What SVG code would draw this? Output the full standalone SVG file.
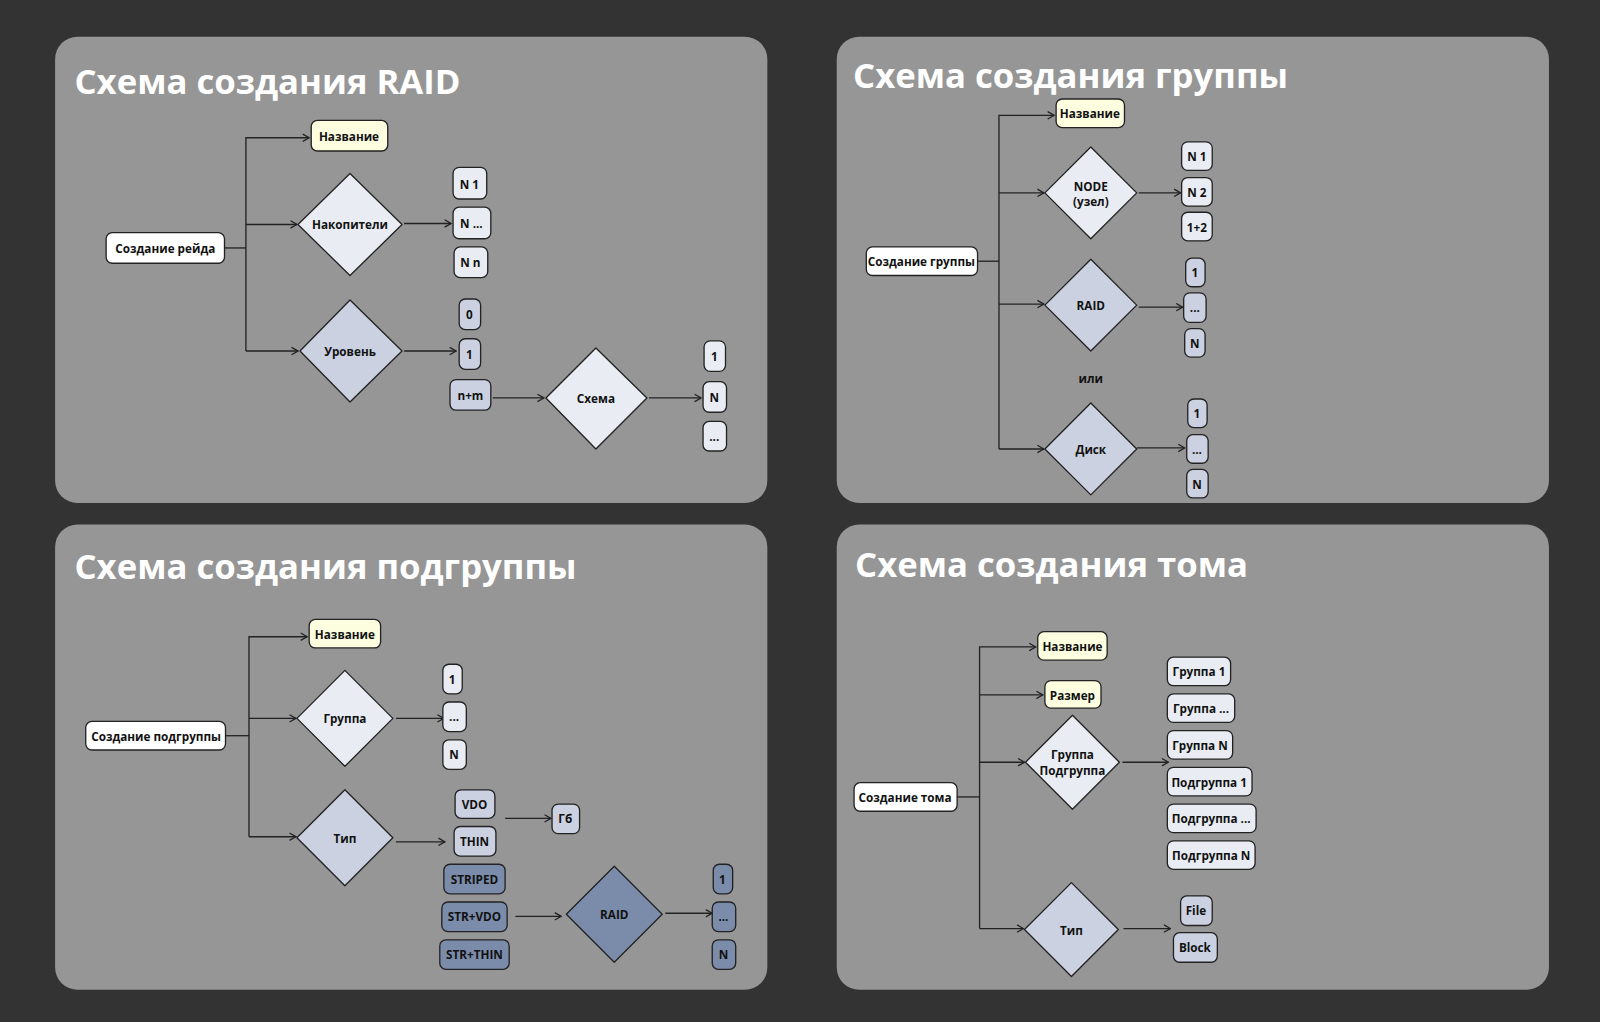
<svg xmlns="http://www.w3.org/2000/svg" width="1600" height="1022" viewBox="0 0 1600 1022">
<defs>
<style>
.panel{fill:#969696}
.t{font-family:"Open Sans","Liberation Sans",sans-serif;font-weight:700;fill:#fff;font-size:34px}
.l{font-family:"Open Sans","Liberation Sans",sans-serif;font-weight:700;font-size:11.5px;fill:#111;text-anchor:middle;dominant-baseline:central}
.n rect,.n polygon{stroke:#222;stroke-width:1.3;stroke-linejoin:round}
.w{fill:#ffffff}.y{fill:#fdfde0}.a{fill:#e9edf3}.m{fill:#cbd1e0}.d{fill:#7b8cab}
.c line,.c polyline{stroke:#222;stroke-width:1.3;fill:none}
.c .ar{marker-end:url(#ah)}
</style>
<marker id="ah" viewBox="0 0 10 10" refX="9" refY="5" markerWidth="9" markerHeight="9" markerUnits="userSpaceOnUse" orient="auto"><polyline points="2,1 9,5 2,9" fill="none" stroke="#222" stroke-width="1.4"/></marker>
</defs>
<rect width="1600" height="1022" fill="#333333"/>
<g transform="scale(1.0204)">
<rect class="panel" x="54" y="36" width="698" height="457" rx="22"/>
<rect class="panel" x="820" y="36" width="698" height="457" rx="22"/>
<rect class="panel" x="54" y="514" width="698" height="456" rx="22"/>
<rect class="panel" x="820" y="514" width="698" height="456" rx="22"/>
<text class="t" x="73" y="92">Схема создания RAID</text>
<text class="t" x="836" y="86" font-size="32">Схема создания группы</text>
<text class="t" x="73" y="567">Схема создания подгруппы</text>
<text class="t" x="838" y="565">Схема создания тома</text>

<g class="c" id="connectors">
<!-- TL -->
<line x1="220" y1="243" x2="241" y2="243"/>
<polyline points="241,344 241,135 303,135" class="ar"/>
<line x1="241" y1="220" x2="291" y2="220" class="ar"/>
<line x1="241" y1="344" x2="292" y2="344" class="ar"/>
<line x1="396" y1="219" x2="442" y2="219" class="ar"/>
<line x1="396" y1="344" x2="447" y2="344" class="ar"/>
<line x1="483" y1="390" x2="533" y2="390" class="ar"/>
<line x1="636" y1="390" x2="687" y2="390" class="ar"/>
<!-- TR -->
<line x1="958" y1="256" x2="979" y2="256"/>
<polyline points="979,440 979,113 1033,113" class="ar"/>
<line x1="979" y1="189" x2="1023" y2="189" class="ar"/>
<line x1="979" y1="298" x2="1023" y2="298" class="ar"/>
<line x1="979" y1="440" x2="1023" y2="440" class="ar"/>
<line x1="1116" y1="189" x2="1157" y2="189" class="ar"/>
<line x1="1116" y1="301" x2="1159" y2="301" class="ar"/>
<line x1="1114" y1="439" x2="1161" y2="439" class="ar"/>
<!-- BL -->
<line x1="221" y1="721" x2="244" y2="721"/>
<polyline points="244,820 244,624 301,624" class="ar"/>
<line x1="244" y1="704" x2="290" y2="704" class="ar"/>
<line x1="244" y1="820" x2="290" y2="820" class="ar"/>
<line x1="388" y1="704" x2="435" y2="704" class="ar"/>
<line x1="388" y1="825" x2="436" y2="825" class="ar"/>
<line x1="495" y1="802" x2="540" y2="802" class="ar"/>
<line x1="505" y1="898" x2="550" y2="898" class="ar"/>
<line x1="652" y1="895" x2="698" y2="895" class="ar"/>
<!-- BR -->
<line x1="938" y1="781" x2="960" y2="781"/>
<polyline points="960,910 960,634 1015,634" class="ar"/>
<line x1="960" y1="681" x2="1022" y2="681" class="ar"/>
<line x1="960" y1="747" x2="1004" y2="747" class="ar"/>
<line x1="960" y1="910" x2="1003" y2="910" class="ar"/>
<line x1="1100" y1="747" x2="1145" y2="747" class="ar"/>
<line x1="1101" y1="910" x2="1147" y2="910" class="ar"/>
</g>

<!-- TL nodes -->
<g class="n" id="raid-start"><rect class="w" x="104" y="228" width="116" height="30" rx="6"/><text class="l" x="162" y="243">Создание рейда</text></g>
<g class="n" id="raid-name"><rect class="y" x="305" y="118" width="75" height="30" rx="6"/><text class="l" x="342" y="133">Название</text></g>
<g class="n" id="raid-drives"><polygon class="a" points="343,170 394,220 343,270 292,220"/><text class="l" x="343" y="220">Накопители</text></g>
<g class="n" id="raid-level"><polygon class="m" points="343,294 394,344 343,394 294,344"/><text class="l" x="343" y="344">Уровень</text></g>
<g class="n" id="raid-n1"><rect class="a" x="444" y="164" width="33" height="31" rx="6"/><text class="l" x="460" y="180">N 1</text></g>
<g class="n" id="raid-ndots"><rect class="a" x="444" y="203" width="37" height="31" rx="6"/><text class="l" x="462" y="219">N ...</text></g>
<g class="n" id="raid-nn"><rect class="a" x="445" y="242" width="33" height="30" rx="6"/><text class="l" x="461" y="257">N n</text></g>
<g class="n" id="raid-l0"><rect class="m" x="450" y="293" width="21" height="30" rx="6"/><text class="l" x="460" y="308">0</text></g>
<g class="n" id="raid-l1"><rect class="m" x="450" y="332" width="21" height="30" rx="6"/><text class="l" x="460" y="347">1</text></g>
<g class="n" id="raid-lnm"><rect class="m" x="441" y="372" width="40" height="30" rx="6"/><text class="l" x="461" y="387">n+m</text></g>
<g class="n" id="raid-scheme"><polygon class="a" points="584,341 634,390 584,440 535,390"/><text class="l" x="584" y="390">Схема</text></g>
<g class="n" id="raid-s1"><rect class="a" x="690" y="334" width="21" height="30" rx="6"/><text class="l" x="700" y="349">1</text></g>
<g class="n" id="raid-sn"><rect class="a" x="689" y="374" width="23" height="30" rx="6"/><text class="l" x="700" y="389">N</text></g>
<g class="n" id="raid-sd"><rect class="a" x="689" y="413" width="23" height="29" rx="6"/><text class="l" x="700" y="427">...</text></g>

<!-- TR nodes -->
<g class="n" id="grp-start"><rect class="w" x="849" y="242" width="109" height="28" rx="6"/><text class="l" x="903" y="256" font-size="10.5">Создание группы</text></g>
<g class="n" id="grp-name"><rect class="y" x="1035" y="97" width="67" height="28" rx="6"/><text class="l" x="1068" y="111" font-size="10.5">Название</text></g>
<g class="n" id="grp-node"><polygon class="a" points="1069,144 1114,189 1069,234 1024,189"/><text class="l" x="1069" y="189" font-size="10.5"><tspan x="1069" dy="-7">NODE</tspan><tspan x="1069" dy="15">(узел)</tspan></text></g>
<g class="n" id="grp-raid"><polygon class="m" points="1069,254 1114,299 1069,344 1024,299"/><text class="l" x="1069" y="299" font-size="10.5">RAID</text></g>
<g class="n" id="grp-disk"><polygon class="m" points="1069,395 1114,440 1069,485 1024,440"/><text class="l" x="1069" y="440" font-size="10.5">Диск</text></g>
<g class="n" id="grp-n1"><rect class="a" x="1158" y="139" width="30" height="28" rx="6"/><text class="l" x="1173" y="153" font-size="10.5">N 1</text></g>
<g class="n" id="grp-n2"><rect class="a" x="1158" y="174" width="30" height="28" rx="6"/><text class="l" x="1173" y="188" font-size="10.5">N 2</text></g>
<g class="n" id="grp-n12"><rect class="a" x="1158" y="208" width="30" height="28" rx="6"/><text class="l" x="1173" y="222" font-size="10.5">1+2</text></g>
<g class="n" id="grp-r1"><rect class="m" x="1162" y="253" width="19" height="28" rx="6"/><text class="l" x="1171" y="267" font-size="10.5">1</text></g>
<g class="n" id="grp-rd"><rect class="m" x="1160" y="287" width="22" height="29" rx="6"/><text class="l" x="1171" y="301" font-size="10.5">...</text></g>
<g class="n" id="grp-rn"><rect class="m" x="1161" y="322" width="20" height="28" rx="6"/><text class="l" x="1171" y="336" font-size="10.5">N</text></g>
<text class="l" x="1069" y="370" font-size="10.5">или</text>
<g class="n" id="grp-d1"><rect class="m" x="1164" y="391" width="19" height="28" rx="6"/><text class="l" x="1173" y="405" font-size="10.5">1</text></g>
<g class="n" id="grp-dd"><rect class="m" x="1163" y="426" width="21" height="28" rx="6"/><text class="l" x="1173" y="440" font-size="10.5">...</text></g>
<g class="n" id="grp-dn"><rect class="m" x="1163" y="460" width="21" height="28" rx="6"/><text class="l" x="1173" y="474" font-size="10.5">N</text></g>

<!-- BL nodes -->
<g class="n" id="sub-start"><rect class="w" x="84" y="707" width="137" height="28" rx="6"/><text class="l" x="153" y="721" font-size="11">Создание подгруппы</text></g>
<g class="n" id="sub-name"><rect class="y" x="303" y="607" width="70" height="28" rx="6"/><text class="l" x="338" y="621" font-size="11">Название</text></g>
<g class="n" id="sub-group"><polygon class="a" points="338,657 385,704 338,751 291,704"/><text class="l" x="338" y="704" font-size="11">Группа</text></g>
<g class="n" id="sub-type"><polygon class="m" points="338,774 385,821 338,868 291,821"/><text class="l" x="338" y="821" font-size="11">Тип</text></g>
<g class="n" id="sub-g1"><rect class="a" x="434" y="651" width="19" height="29" rx="6"/><text class="l" x="443" y="665" font-size="11">1</text></g>
<g class="n" id="sub-gd"><rect class="a" x="434" y="688" width="23" height="29" rx="6"/><text class="l" x="445" y="702" font-size="11">...</text></g>
<g class="n" id="sub-gn"><rect class="a" x="434" y="725" width="23" height="29" rx="6"/><text class="l" x="445" y="739" font-size="11">N</text></g>
<g class="n" id="sub-vdo"><rect class="m" x="446" y="774" width="39" height="28" rx="6"/><text class="l" x="465" y="788" font-size="11">VDO</text></g>
<g class="n" id="sub-thin"><rect class="m" x="445" y="810" width="41" height="29" rx="6"/><text class="l" x="465" y="824" font-size="11">THIN</text></g>
<g class="n" id="sub-gb"><rect class="m" x="541" y="788" width="27" height="29" rx="6"/><text class="l" x="554" y="802" font-size="11">Гб</text></g>
<g class="n" id="sub-striped"><rect class="d" x="435" y="847" width="60" height="29" rx="6"/><text class="l" x="465" y="861" font-size="11">STRIPED</text></g>
<g class="n" id="sub-strvdo"><rect class="d" x="433" y="884" width="64" height="29" rx="6"/><text class="l" x="465" y="898" font-size="11">STR+VDO</text></g>
<g class="n" id="sub-strthin"><rect class="d" x="431" y="921" width="68" height="29" rx="6"/><text class="l" x="465" y="935" font-size="11">STR+THIN</text></g>
<g class="n" id="sub-raid"><polygon class="d" points="602,849 649,896 602,943 555,896"/><text class="l" x="602" y="896" font-size="11">RAID</text></g>
<g class="n" id="sub-r1"><rect class="d" x="699" y="847" width="19" height="29" rx="6"/><text class="l" x="708" y="861" font-size="11">1</text></g>
<g class="n" id="sub-rd"><rect class="d" x="698" y="884" width="23" height="29" rx="6"/><text class="l" x="709" y="898" font-size="11">...</text></g>
<g class="n" id="sub-rn"><rect class="d" x="698" y="921" width="23" height="29" rx="6"/><text class="l" x="709" y="935" font-size="11">N</text></g>

<!-- BR nodes -->
<g class="n" id="vol-start"><rect class="w" x="837" y="767" width="101" height="28" rx="6"/><text class="l" x="887" y="781" font-size="11">Создание тома</text></g>
<g class="n" id="vol-name"><rect class="y" x="1017" y="619" width="68" height="28" rx="6"/><text class="l" x="1051" y="633" font-size="11">Название</text></g>
<g class="n" id="vol-size"><rect class="y" x="1024" y="667" width="55" height="27" rx="6"/><text class="l" x="1051" y="681" font-size="11">Размер</text></g>
<g class="n" id="vol-grp"><polygon class="a" points="1051,701 1097,747 1051,793 1005,747"/><text class="l" x="1051" y="747" font-size="11"><tspan x="1051" dy="-8">Группа</tspan><tspan x="1051" dy="16">Подгруппа</tspan></text></g>
<g class="n" id="vol-type"><polygon class="m" points="1050,865 1096,911 1050,957 1004,911"/><text class="l" x="1050" y="911" font-size="11">Тип</text></g>
<g class="n" id="vol-g1"><rect class="a" x="1144" y="644" width="62" height="28" rx="6"/><text class="l" x="1175" y="658" font-size="11">Группа 1</text></g>
<g class="n" id="vol-gd"><rect class="a" x="1144" y="680" width="66" height="28" rx="6"/><text class="l" x="1177" y="694" font-size="11">Группа ...</text></g>
<g class="n" id="vol-gn"><rect class="a" x="1144" y="716" width="64" height="28" rx="6"/><text class="l" x="1176" y="730" font-size="11">Группа N</text></g>
<g class="n" id="vol-s1"><rect class="a" x="1144" y="752" width="83" height="28" rx="6"/><text class="l" x="1185" y="766" font-size="11">Подгруппа 1</text></g>
<g class="n" id="vol-sd"><rect class="a" x="1144" y="788" width="87" height="28" rx="6"/><text class="l" x="1187" y="802" font-size="11">Подгруппа ...</text></g>
<g class="n" id="vol-sn"><rect class="a" x="1144" y="824" width="86" height="28" rx="6"/><text class="l" x="1187" y="838" font-size="11">Подгруппа N</text></g>
<g class="n" id="vol-file"><rect class="m" x="1157" y="878" width="31" height="29" rx="6"/><text class="l" x="1172" y="892" font-size="11">File</text></g>
<g class="n" id="vol-block"><rect class="m" x="1150" y="914" width="43" height="29" rx="6"/><text class="l" x="1171" y="928" font-size="11">Block</text></g>
</g>
</svg>
